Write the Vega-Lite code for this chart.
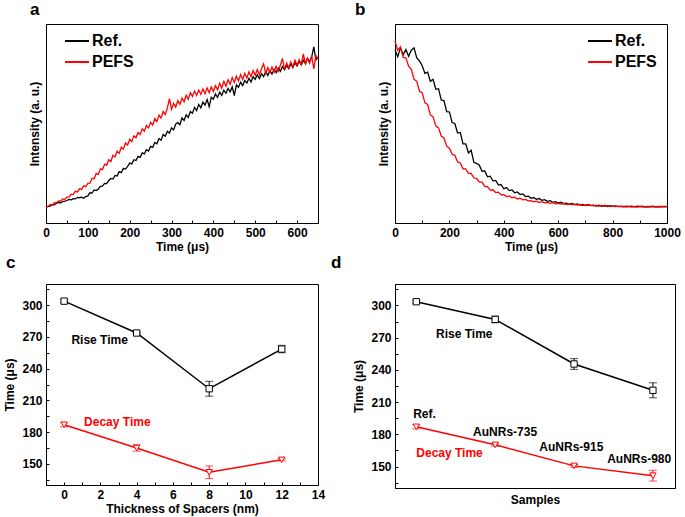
{
"$schema": "https://vega.github.io/schema/vega-lite/v6.json",
"autosize": {"type": "pad"},
"padding": {"left": 3, "top": 0, "right": 5, "bottom": 3},
"background": "white",
"bounds": "flush",
"columns": 2,
"spacing": {"row": 61, "column": 77},
"config": {
  "font": "Liberation Sans",
  "view": {"stroke": "#000", "strokeWidth": 1},
  "axis": {"domainColor": "#000", "domainWidth": 1, "tickColor": "#000", "tickSize": -3, "tickWidth": 1, "labelFontSize": 12, "labelFontWeight": "bold", "labelColor": "#000", "titleFontSize": 12, "titleFontWeight": "bold", "titleColor": "#000", "grid": false, "labelPadding": 7, "labelFlush": false, "labelOverlap": false},
  "axisX": {"titlePadding": 3},
  "axisY": {"titlePadding": 5},
  "title": {"anchor": "start", "fontSize": 17, "fontWeight": "bold", "color": "#000", "baseline": "alphabetic"}
},
"datasets": {
"a": [
{"t":0,"ref":0.080,"pefs":0.080},{"t":5,"ref":0.084,"pefs":0.083},{"t":10,"ref":0.085,"pefs":0.092},{"t":15,"ref":0.092,"pefs":0.091},{"t":20,"ref":0.091,"pefs":0.102},{"t":25,"ref":0.099,"pefs":0.101},{"t":30,"ref":0.103,"pefs":0.111},{"t":35,"ref":0.101,"pefs":0.110},{"t":40,"ref":0.108,"pefs":0.121},{"t":45,"ref":0.110,"pefs":0.119},
{"t":50,"ref":0.113,"pefs":0.130},{"t":55,"ref":0.118,"pefs":0.130},{"t":60,"ref":0.116,"pefs":0.145},{"t":65,"ref":0.122,"pefs":0.143},{"t":70,"ref":0.121,"pefs":0.159},{"t":75,"ref":0.129,"pefs":0.156},{"t":80,"ref":0.127,"pefs":0.172},{"t":85,"ref":0.130,"pefs":0.169},{"t":90,"ref":0.124,"pefs":0.187},{"t":95,"ref":0.133,"pefs":0.183},
{"t":100,"ref":0.136,"pefs":0.199},{"t":105,"ref":0.152,"pefs":0.200},{"t":110,"ref":0.150,"pefs":0.225},{"t":115,"ref":0.166,"pefs":0.222},{"t":120,"ref":0.163,"pefs":0.249},{"t":125,"ref":0.171,"pefs":0.244},{"t":130,"ref":0.184,"pefs":0.272},{"t":135,"ref":0.185,"pefs":0.268},{"t":140,"ref":0.199,"pefs":0.296},{"t":145,"ref":0.198,"pefs":0.290},
{"t":150,"ref":0.214,"pefs":0.318},{"t":155,"ref":0.224,"pefs":0.309},{"t":160,"ref":0.221,"pefs":0.340},{"t":165,"ref":0.239,"pefs":0.332},{"t":170,"ref":0.236,"pefs":0.361},{"t":175,"ref":0.258,"pefs":0.350},{"t":180,"ref":0.253,"pefs":0.381},{"t":185,"ref":0.275,"pefs":0.371},{"t":190,"ref":0.271,"pefs":0.402},{"t":195,"ref":0.284,"pefs":0.392},
{"t":200,"ref":0.301,"pefs":0.421},{"t":205,"ref":0.297,"pefs":0.409},{"t":210,"ref":0.318,"pefs":0.438},{"t":215,"ref":0.314,"pefs":0.428},{"t":220,"ref":0.335,"pefs":0.455},{"t":225,"ref":0.330,"pefs":0.444},{"t":230,"ref":0.352,"pefs":0.473},{"t":235,"ref":0.347,"pefs":0.461},{"t":240,"ref":0.368,"pefs":0.490},{"t":245,"ref":0.362,"pefs":0.478},
{"t":250,"ref":0.385,"pefs":0.506},{"t":255,"ref":0.380,"pefs":0.492},{"t":260,"ref":0.405,"pefs":0.525},{"t":265,"ref":0.398,"pefs":0.510},{"t":270,"ref":0.424,"pefs":0.542},{"t":275,"ref":0.416,"pefs":0.527},{"t":280,"ref":0.444,"pefs":0.560},{"t":285,"ref":0.436,"pefs":0.545},{"t":290,"ref":0.461,"pefs":0.578},{"t":295,"ref":0.452,"pefs":0.625},
{"t":300,"ref":0.478,"pefs":0.571},{"t":305,"ref":0.468,"pefs":0.601},{"t":310,"ref":0.497,"pefs":0.582},{"t":315,"ref":0.505,"pefs":0.615},{"t":320,"ref":0.494,"pefs":0.596},{"t":325,"ref":0.528,"pefs":0.628},{"t":330,"ref":0.515,"pefs":0.609},{"t":335,"ref":0.544,"pefs":0.642},{"t":340,"ref":0.531,"pefs":0.622},{"t":345,"ref":0.560,"pefs":0.655},
{"t":350,"ref":0.552,"pefs":0.636},{"t":355,"ref":0.581,"pefs":0.663},{"t":360,"ref":0.565,"pefs":0.641},{"t":365,"ref":0.596,"pefs":0.668},{"t":370,"ref":0.579,"pefs":0.646},{"t":375,"ref":0.607,"pefs":0.674},{"t":380,"ref":0.592,"pefs":0.650},{"t":385,"ref":0.620,"pefs":0.679},{"t":390,"ref":0.585,"pefs":0.655},{"t":395,"ref":0.632,"pefs":0.684},
{"t":400,"ref":0.622,"pefs":0.661},{"t":405,"ref":0.648,"pefs":0.690},{"t":410,"ref":0.631,"pefs":0.669},{"t":415,"ref":0.657,"pefs":0.702},{"t":420,"ref":0.641,"pefs":0.678},{"t":425,"ref":0.668,"pefs":0.712},{"t":430,"ref":0.652,"pefs":0.688},{"t":435,"ref":0.676,"pefs":0.720},{"t":440,"ref":0.659,"pefs":0.697},{"t":445,"ref":0.684,"pefs":0.731},
{"t":450,"ref":0.640,"pefs":0.706},{"t":455,"ref":0.694,"pefs":0.738},{"t":460,"ref":0.682,"pefs":0.714},{"t":465,"ref":0.708,"pefs":0.746},{"t":470,"ref":0.691,"pefs":0.721},{"t":475,"ref":0.716,"pefs":0.752},{"t":480,"ref":0.703,"pefs":0.729},{"t":485,"ref":0.727,"pefs":0.760},{"t":490,"ref":0.709,"pefs":0.735},{"t":495,"ref":0.735,"pefs":0.766},
{"t":500,"ref":0.722,"pefs":0.742},{"t":505,"ref":0.745,"pefs":0.771},{"t":510,"ref":0.726,"pefs":0.745},{"t":515,"ref":0.750,"pefs":0.775},{"t":520,"ref":0.735,"pefs":0.800},{"t":525,"ref":0.760,"pefs":0.752},{"t":530,"ref":0.741,"pefs":0.781},{"t":535,"ref":0.765,"pefs":0.756},{"t":540,"ref":0.748,"pefs":0.784},{"t":545,"ref":0.772,"pefs":0.758},
{"t":550,"ref":0.756,"pefs":0.787},{"t":555,"ref":0.778,"pefs":0.762},{"t":560,"ref":0.762,"pefs":0.793},{"t":565,"ref":0.786,"pefs":0.827},{"t":570,"ref":0.770,"pefs":0.771},{"t":575,"ref":0.792,"pefs":0.803},{"t":580,"ref":0.776,"pefs":0.778},{"t":585,"ref":0.799,"pefs":0.810},{"t":590,"ref":0.781,"pefs":0.784},{"t":595,"ref":0.805,"pefs":0.818},
{"t":600,"ref":0.789,"pefs":0.793},{"t":605,"ref":0.812,"pefs":0.820},{"t":610,"ref":0.795,"pefs":0.796},{"t":615,"ref":0.818,"pefs":0.850},{"t":620,"ref":0.801,"pefs":0.800},{"t":625,"ref":0.826,"pefs":0.829},{"t":630,"ref":0.812,"pefs":0.803},{"t":635,"ref":0.835,"pefs":0.838},{"t":640,"ref":0.885,"pefs":0.775},{"t":645,"ref":0.820,"pefs":0.842},
{"t":650,"ref":0.834,"pefs":0.826}
],
"b": [
{"t":0,"ref":0.870,"pefs":0.915},{"t":10,"ref":0.835,"pefs":0.868},{"t":20,"ref":0.880,"pefs":0.885},{"t":30,"ref":0.845,"pefs":0.832},{"t":40,"ref":0.872,"pefs":0.830},{"t":50,"ref":0.838,"pefs":0.788},{"t":60,"ref":0.868,"pefs":0.772},{"t":70,"ref":0.880,"pefs":0.722},{"t":80,"ref":0.830,"pefs":0.712},{"t":90,"ref":0.815,"pefs":0.662},
{"t":100,"ref":0.790,"pefs":0.655},{"t":110,"ref":0.752,"pefs":0.604},{"t":120,"ref":0.758,"pefs":0.596},{"t":130,"ref":0.712,"pefs":0.543},{"t":140,"ref":0.722,"pefs":0.533},{"t":150,"ref":0.672,"pefs":0.488},{"t":160,"ref":0.675,"pefs":0.478},{"t":170,"ref":0.618,"pefs":0.437},{"t":180,"ref":0.615,"pefs":0.427},{"t":190,"ref":0.560,"pefs":0.386},
{"t":200,"ref":0.558,"pefs":0.376},{"t":210,"ref":0.505,"pefs":0.345},{"t":220,"ref":0.500,"pefs":0.340},{"t":230,"ref":0.452,"pefs":0.307},{"t":240,"ref":0.455,"pefs":0.302},{"t":250,"ref":0.398,"pefs":0.272},{"t":260,"ref":0.398,"pefs":0.272},{"t":270,"ref":0.352,"pefs":0.249},{"t":280,"ref":0.365,"pefs":0.249},{"t":290,"ref":0.305,"pefs":0.226},
{"t":300,"ref":0.300,"pefs":0.224},{"t":310,"ref":0.290,"pefs":0.205},{"t":320,"ref":0.260,"pefs":0.205},{"t":330,"ref":0.262,"pefs":0.184},{"t":340,"ref":0.232,"pefs":0.183},{"t":350,"ref":0.235,"pefs":0.165},{"t":360,"ref":0.212,"pefs":0.167},{"t":370,"ref":0.214,"pefs":0.153},{"t":380,"ref":0.192,"pefs":0.155},{"t":390,"ref":0.193,"pefs":0.141},
{"t":400,"ref":0.172,"pefs":0.142},{"t":410,"ref":0.178,"pefs":0.133},{"t":420,"ref":0.163,"pefs":0.136},{"t":430,"ref":0.166,"pefs":0.127},{"t":440,"ref":0.152,"pefs":0.130},{"t":450,"ref":0.156,"pefs":0.121},{"t":460,"ref":0.143,"pefs":0.125},{"t":470,"ref":0.146,"pefs":0.116},{"t":480,"ref":0.133,"pefs":0.119},{"t":490,"ref":0.135,"pefs":0.111},
{"t":500,"ref":0.124,"pefs":0.112},{"t":510,"ref":0.128,"pefs":0.106},{"t":520,"ref":0.119,"pefs":0.110},{"t":530,"ref":0.123,"pefs":0.103},{"t":540,"ref":0.114,"pefs":0.107},{"t":550,"ref":0.117,"pefs":0.101},{"t":560,"ref":0.109,"pefs":0.104},{"t":570,"ref":0.112,"pefs":0.099},{"t":580,"ref":0.104,"pefs":0.102},{"t":590,"ref":0.107,"pefs":0.096},
{"t":600,"ref":0.100,"pefs":0.099},{"t":610,"ref":0.104,"pefs":0.095},{"t":620,"ref":0.097,"pefs":0.098},{"t":630,"ref":0.100,"pefs":0.093},{"t":640,"ref":0.094,"pefs":0.096},{"t":650,"ref":0.098,"pefs":0.092},{"t":660,"ref":0.092,"pefs":0.095},{"t":670,"ref":0.096,"pefs":0.090},{"t":680,"ref":0.090,"pefs":0.093},{"t":690,"ref":0.093,"pefs":0.088},
{"t":700,"ref":0.088,"pefs":0.091},{"t":710,"ref":0.092,"pefs":0.087},{"t":720,"ref":0.087,"pefs":0.090},{"t":730,"ref":0.090,"pefs":0.086},{"t":740,"ref":0.085,"pefs":0.089},{"t":750,"ref":0.089,"pefs":0.085},{"t":760,"ref":0.084,"pefs":0.088},{"t":770,"ref":0.088,"pefs":0.084},{"t":780,"ref":0.083,"pefs":0.087},{"t":790,"ref":0.087,"pefs":0.083},
{"t":800,"ref":0.084,"pefs":0.086},{"t":810,"ref":0.086,"pefs":0.082},{"t":820,"ref":0.082,"pefs":0.085},{"t":830,"ref":0.085,"pefs":0.081},{"t":840,"ref":0.081,"pefs":0.084},{"t":850,"ref":0.085,"pefs":0.080},{"t":860,"ref":0.082,"pefs":0.084},{"t":870,"ref":0.084,"pefs":0.081},{"t":880,"ref":0.081,"pefs":0.083},{"t":890,"ref":0.084,"pefs":0.080},
{"t":900,"ref":0.082,"pefs":0.084},{"t":910,"ref":0.084,"pefs":0.081},{"t":920,"ref":0.080,"pefs":0.083},{"t":930,"ref":0.083,"pefs":0.080},{"t":940,"ref":0.081,"pefs":0.084},{"t":950,"ref":0.084,"pefs":0.081},{"t":960,"ref":0.080,"pefs":0.083},{"t":970,"ref":0.083,"pefs":0.080},{"t":980,"ref":0.081,"pefs":0.084},{"t":990,"ref":0.083,"pefs":0.081},
{"t":1000,"ref":0.082,"pefs":0.083}
],
"c": [
{"x":0,"s":"rise","y":303.8,"lo":302.3,"hi":305.3},
{"x":4,"s":"rise","y":273.7,"lo":272.7,"hi":274.7},
{"x":8,"s":"rise","y":221,"lo":214,"hi":228},
{"x":12,"s":"rise","y":258.5,"lo":255,"hi":262},
{"x":0,"s":"decay","y":187,"lo":185,"hi":189},
{"x":4,"s":"decay","y":165,"lo":162,"hi":168},
{"x":8,"s":"decay","y":142,"lo":136,"hi":148},
{"x":12,"s":"decay","y":153.8,"lo":152.8,"hi":154.8}
],
"cl": [
{"x":0.4,"y":267.3,"s":"rise","label":"Rise Time"},
{"x":1.1,"y":189.6,"s":"decay","label":"Decay Time"}
],
"d": [
{"x":0,"s":"rise","y":303.5,"lo":302,"hi":305},
{"x":1,"s":"rise","y":287,"lo":284,"hi":290},
{"x":2,"s":"rise","y":245.5,"lo":240.5,"hi":250.5},
{"x":3,"s":"rise","y":221,"lo":214,"hi":228},
{"x":0,"s":"decay","y":187,"lo":185,"hi":189},
{"x":1,"s":"decay","y":170.2,"lo":169,"hi":171.4},
{"x":2,"s":"decay","y":150.6,"lo":149.3,"hi":151.9},
{"x":3,"s":"decay","y":141.5,"lo":136.5,"hi":146.5}
],
"dl": [
{"x":-0.04,"y":199.3,"s":"sample","label":"Ref."},
{"x":0.72,"y":182.3,"s":"sample","label":"AuNRs-735"},
{"x":1.56,"y":168.4,"s":"sample","label":"AuNRs-915"},
{"x":2.42,"y":157.2,"s":"sample","label":"AuNRs-980"},
{"x":0.25,"y":273.6,"s":"sample","label":"Rise Time"},
{"x":0,"y":162.2,"s":"decay","label":"Decay Time"}
]
},
"resolve": {"scale": {"color": "independent", "shape": "independent"}, "legend": {"color": "independent"}},
"concat": [
{
"width": 272, "height": 199,
"title": {"text": "a", "offset": 5, "dx": 2},
"data": {"name": "a"},
"transform": [{"fold": ["ref", "pefs"], "as": ["s", "v"]}],
"mark": {"type": "line", "strokeWidth": 1.3},
"encoding": {
"x": {"field": "t", "type": "quantitative", "scale": {"domain": [0, 650], "nice": false, "zero": false}, "axis": {"title": "Time (μs)", "values": [0,50,100,150,200,250,300,350,400,450,500,550,600,650], "labelExpr": "datum.value % 100 === 0 ? format(datum.value, 'd') : ''"}},
"y": {"field": "v", "type": "quantitative", "scale": {"domain": [0, 1], "nice": false}, "axis": {"title": "Intensity (a. u.)", "labels": false, "ticks": false}},
"color": {"field": "s", "type": "nominal", "scale": {"domain": ["ref", "pefs"], "range": ["#000000", "#ff0000"]}, "legend": {"orient": "none", "legendX": 18, "legendY": 4, "title": null, "symbolType": "stroke", "symbolSize": 576, "symbolStrokeWidth": 2, "labelFontSize": 16, "labelFontWeight": "bold", "labelColor": "#000", "labelOffset": 2, "rowPadding": -3, "padding": 0, "labelExpr": "datum.value === 'ref' ? 'Ref.' : 'PEFS'"}}
}
},
{
"width": 272, "height": 199,
"title": {"text": "b", "offset": 5, "dx": -22},
"data": {"name": "b"},
"transform": [{"fold": ["ref", "pefs"], "as": ["s", "v"]}],
"mark": {"type": "line", "strokeWidth": 1.3},
"encoding": {
"x": {"field": "t", "type": "quantitative", "scale": {"domain": [0, 1000], "nice": false, "zero": false}, "axis": {"title": "Time (μs)", "values": [0,100,200,300,400,500,600,700,800,900,1000], "labelExpr": "datum.value % 200 === 0 ? format(datum.value, 'd') : ''"}},
"y": {"field": "v", "type": "quantitative", "scale": {"domain": [0, 1], "nice": false}, "axis": {"title": "Intensity (a. u.)", "labels": false, "ticks": false}},
"color": {"field": "s", "type": "nominal", "scale": {"domain": ["ref", "pefs"], "range": ["#000000", "#ff0000"]}, "legend": {"orient": "none", "legendX": 192, "legendY": 4, "title": null, "symbolType": "stroke", "symbolSize": 576, "symbolStrokeWidth": 2, "labelFontSize": 16, "labelFontWeight": "bold", "labelColor": "#000", "labelOffset": 2, "rowPadding": -1, "padding": 0, "labelExpr": "datum.value === 'ref' ? 'Ref.' : 'PEFS'"}}
}
},
{
"width": 272, "height": 201,
"title": {"text": "c", "offset": 11, "dx": 2},
"encoding": {
"x": {"field": "x", "type": "quantitative", "scale": {"domain": [-1, 14], "nice": false, "zero": false}, "axis": {"title": "Thickness of Spacers (nm)", "values": [0,1,2,3,4,5,6,7,8,9,10,11,12,13,14], "labelExpr": "datum.value % 2 === 0 ? datum.label : ''"}},
"y": {"field": "y", "type": "quantitative", "scale": {"domain": [130, 320], "nice": false, "zero": false}, "axis": {"title": "Time (μs)", "values": [135,150,165,180,195,210,225,240,255,270,285,300,315], "labelExpr": "datum.value % 30 === 0 ? datum.label : ''"}},
"color": {"field": "s", "type": "nominal", "scale": {"domain": ["rise", "decay", "sample"], "range": ["#000000", "#ff0000", "#000000"]}, "legend": null}
},
"layer": [
{"data": {"name": "c"}, "mark": {"type": "line", "strokeWidth": 1.5}},
{"data": {"name": "c"}, "mark": {"type": "rule", "strokeWidth": 1}, "encoding": {"y": {"field": "lo", "type": "quantitative"}, "y2": {"field": "hi"}}},
{"data": {"name": "c"}, "mark": {"type": "tick", "orient": "horizontal", "size": 8, "thickness": 1}, "encoding": {"y": {"field": "lo", "type": "quantitative"}}},
{"data": {"name": "c"}, "mark": {"type": "tick", "orient": "horizontal", "size": 8, "thickness": 1}, "encoding": {"y": {"field": "hi", "type": "quantitative"}}},
{"data": {"name": "c"}, "mark": {"type": "point", "filled": false, "size": 40, "strokeWidth": 1, "fill": "white", "fillOpacity": 1}, "encoding": {"shape": {"field": "s", "type": "nominal", "scale": {"domain": ["rise", "decay"], "range": ["square", "triangle-down"]}, "legend": null}}},
{"data": {"name": "cl"}, "mark": {"type": "text", "align": "left", "baseline": "middle", "fontSize": 12, "fontWeight": "bold"}, "encoding": {"text": {"field": "label"}}}
]
},
{
"width": 280, "height": 204,
"title": {"text": "d", "offset": 11, "dx": -22},
"encoding": {
"x": {"field": "x", "type": "quantitative", "scale": {"domain": [-0.27, 3.28], "nice": false, "zero": false}, "axis": {"title": "Samples", "labels": false, "ticks": false, "titlePadding": 6}},
"y": {"field": "y", "type": "quantitative", "scale": {"domain": [130, 320], "nice": false, "zero": false}, "axis": {"title": "Time (μs)", "values": [135,150,165,180,195,210,225,240,255,270,285,300,315], "labelExpr": "datum.value % 30 === 0 ? datum.label : ''"}},
"color": {"field": "s", "type": "nominal", "scale": {"domain": ["rise", "decay", "sample"], "range": ["#000000", "#ff0000", "#000000"]}, "legend": null}
},
"layer": [
{"data": {"name": "d"}, "mark": {"type": "line", "strokeWidth": 1.5}},
{"data": {"name": "d"}, "mark": {"type": "rule", "strokeWidth": 1}, "encoding": {"y": {"field": "lo", "type": "quantitative"}, "y2": {"field": "hi"}}},
{"data": {"name": "d"}, "mark": {"type": "tick", "orient": "horizontal", "size": 8, "thickness": 1}, "encoding": {"y": {"field": "lo", "type": "quantitative"}}},
{"data": {"name": "d"}, "mark": {"type": "tick", "orient": "horizontal", "size": 8, "thickness": 1}, "encoding": {"y": {"field": "hi", "type": "quantitative"}}},
{"data": {"name": "d"}, "mark": {"type": "point", "filled": false, "size": 40, "strokeWidth": 1, "fill": "white", "fillOpacity": 1}, "encoding": {"shape": {"field": "s", "type": "nominal", "scale": {"domain": ["rise", "decay"], "range": ["square", "triangle-down"]}, "legend": null}}},
{"data": {"name": "dl"}, "mark": {"type": "text", "align": "left", "baseline": "middle", "fontSize": 12, "fontWeight": "bold"}, "encoding": {"text": {"field": "label"}}}
]
}
]
}
